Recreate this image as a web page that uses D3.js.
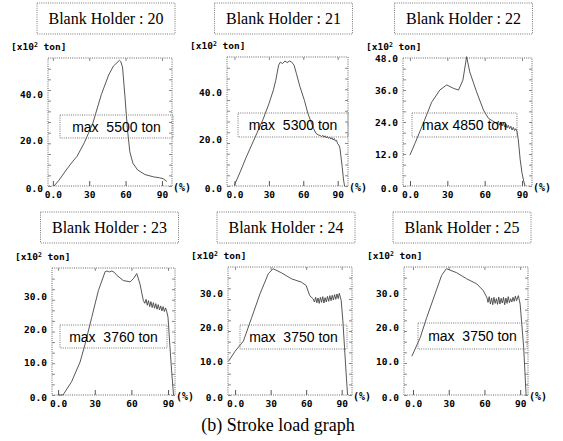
<!DOCTYPE html>
<html>
<head>
<meta charset="utf-8">
<script src="https://cdn.jsdelivr.net/npm/d3@7"></script>
<style>
  body { margin: 0; background: #fff; }
  svg { display: block; }
  .tick text { font-family: "DejaVu Sans Mono", monospace; font-weight: bold; font-size: 9.5px; fill: #000; }
</style>
</head>
<body>
<svg id="chart" width="563" height="441"></svg>
<script>
"use strict";

// ---- data (stroke in %, load in x10^2 ton) ----
const titles = ["Blank Holder : 20", "Blank Holder : 21", "Blank Holder : 22",
                "Blank Holder : 23", "Blank Holder : 24", "Blank Holder : 25"];
const maxLabels = ["max  5500 ton", "max  5300 ton", "max 4850 ton",
                   "max  3760 ton", "max  3750 ton", "max  3750 ton"];
const xTicks = [0, 30, 60, 90];
const yTicks1 = [0, 20, 40];
const yTicks2 = [0, 20, 40];
const yTicks3 = [0, 12, 24, 36, 48];
const yTicks4 = [0, 10, 20, 30];
const yTicks5 = [0, 10, 20, 30];
const yTicks6 = [0, 10, 20, 30];

const stroke1 = [1, 5, 11, 16, 20, 26, 33, 40, 46, 50, 53, 55, 56, 57.5, 59.5, 61.5, 63.5, 66, 70, 76, 83, 88, 91, 94];
const load1   = [0, 2.5, 7, 10.5, 13, 19, 27.5, 40, 48.5, 52.5, 54, 55, 54.5, 52, 39, 25, 15, 10, 7, 5, 4, 3.6, 3.2, 2];

const stroke2 = [0, 5, 10, 15, 20, 25, 30, 34, 36, 38.5, 40, 42, 44, 46, 48, 50, 52, 54, 57, 61, 64, 67, 69, 71, 73, 75,
                 76, 77, 78, 79, 80, 81, 82, 83, 84, 85, 86, 87, 88, 89, 90, 91, 92, 93, 94, 95, 96];
const load2   = [0.4, 6, 12, 17.5, 23, 28.5, 35, 41, 45, 51.5, 52.8, 52.2, 53.3, 52.6, 53.3, 52.8, 51.5, 48, 42.5, 36.5, 31, 27, 24.5, 22.5, 21.8, 21.5,
                 21, 21.6, 20.8, 21.4, 20.5, 21.2, 20.3, 20.9, 20, 20.6, 19.6, 20.2, 19.2, 19.5, 18, 17.5, 16, 12, 8, 3, 0];

const stroke3 = [0, 4, 10.7, 17.4, 24, 29.5, 35, 39, 42.5, 45.5, 48, 53.5, 59, 63, 66, 69.7, 71, 72, 73, 74, 75, 76, 77, 78,
                 79, 80, 81, 82, 83, 84, 85, 86, 87, 88.5, 90, 91.5, 92.5];
const load3   = [11.6, 16, 23.5, 31.4, 36, 37.9, 36.6, 36, 39.7, 48.5, 42.8, 35.3, 28.5, 25.4, 24.5, 23.5, 24.3, 22.8, 24, 22.5, 23.6, 22.2, 23.2, 21.8,
                 22.8, 21.5, 22.4, 21, 22, 20.8, 21.5, 20.4, 17.3, 10, 4.8, 1.5, 0];

const stroke4 = [0, 4, 11, 18, 22, 27.5, 33, 38.5, 40, 42, 44, 46, 48, 53.4, 59, 61.7, 64.4, 67, 69.8, 71, 72, 73, 74, 75, 76,
                 77, 78, 79, 80, 81, 82, 83, 84, 85, 86, 87, 88, 89, 90, 91.5, 93, 94.5];
const load4   = [0, 0, 4, 10, 15.3, 23.5, 31.7, 37.4, 37.6, 37.3, 37.6, 37.2, 36.3, 34.7, 34.3, 35.3, 36.8, 33.7, 28.6, 27.8, 29, 27.2, 28.6, 26.8, 28.3,
                 26.5, 28, 26.3, 27.7, 26, 27.4, 25.8, 27, 25.5, 26.8, 25.3, 26.4, 25.2, 23.5, 15, 7, 0];

const stroke5 = [-5.6, 0, 7, 14, 21, 28, 32, 39, 47.6, 56, 60, 63, 66, 67, 68, 69, 70, 71, 72, 73, 74, 75, 76, 77, 78, 79,
                 80, 81, 82, 83, 84, 85, 86, 87, 88, 89.6, 91, 92.4, 94, 95];
const load5   = [10, 13, 16, 23, 30, 36, 37.5, 36.3, 34.5, 33.5, 32.5, 29.5, 28.5, 27.6, 29, 27.4, 28.8, 27.2, 29, 27.5, 29.2, 27.3, 28.9, 27.6, 29.3, 27.8,
                 29.5, 28, 29.6, 28.2, 29.8, 28.4, 30, 28.6, 30.2, 28, 22, 14, 5, 0];

const stroke6 = [-1, 6, 11.5, 18.5, 24, 28, 36.7, 45, 53.5, 59, 62, 63, 64, 65, 66, 67, 68, 69, 70, 71, 72, 73, 74, 75, 76,
                 77, 78, 79, 80, 81, 82, 83, 84, 85, 86, 87, 88.5, 90, 93, 95];
const load6   = [11.5, 17, 23, 30, 35.5, 37.5, 36.3, 34.5, 33, 31, 29, 27.5, 29.2, 27, 28.8, 26.8, 29, 27.2, 28.6, 26.9, 29.1, 27, 28.7, 27.3, 29,
                 26.8, 28.8, 27.2, 29.2, 27.4, 28.6, 27.6, 29, 27.8, 29.4, 28, 29.5, 27, 14, 0];

const strokes = [stroke1, stroke2, stroke3, stroke4, stroke5, stroke6];
const loads   = [load1, load2, load3, load4, load5, load6];
const yTicks  = [yTicks1, yTicks2, yTicks3, yTicks4, yTicks5, yTicks6];

// ---- layout of each panel (frame box, domains, annotation box) ----
const layout = [
  {l: 48,  r: 172, t: 58,  b: 186, xd: [-4, 98.3],  yd: [0, 56],   box: [60, 115, 113, 23]},
  {l: 227, r: 348, t: 57,  b: 186, xd: [-6.5, 99],  yd: [0, 55],   box: [238, 113, 110, 24]},
  {l: 403, r: 532, t: 58,  b: 186, xd: [-5.6, 98],  yd: [0, 48],   box: [412, 113, 105, 24]},
  {l: 52,  r: 175, t: 268, b: 395, xd: [-5, 95.7],  yd: [0, 38.5], box: [60, 325, 107, 23]},
  {l: 228, r: 352, t: 267, b: 395, xd: [-6, 98.7],  yd: [0, 38],   box: [240, 325, 107, 24]},
  {l: 404, r: 528, t: 267, b: 395, xd: [-7.6, 96.6], yd: [0, 38],  box: [418, 323, 109, 26]}
];

const svg = d3.select("#chart");
const dotted = "1,1.2";

layout.forEach((p, i) => {
  const x = d3.scaleLinear().domain(p.xd).range([p.l, p.r]);
  const y = d3.scaleLinear().domain(p.yd).range([p.b, p.t]);
  const g = svg.append("g");

  // title box
  const tcx = (p.l + p.r) / 2 - 4;
  const ttop = i < 3 ? 3 : 212;
  g.append("rect")
    .attr("x", tcx - 69).attr("y", ttop).attr("width", 138).attr("height", 31)
    .attr("fill", "none").attr("stroke", "#777").attr("stroke-dasharray", dotted);
  g.append("text")
    .attr("x", tcx).attr("y", ttop + 21)
    .attr("text-anchor", "middle")
    .style("font-family", "'Liberation Serif', serif").style("font-size", "16px")
    .text(titles[i]);

  // unit label
  const unit = g.append("text")
    .attr("x", p.l - 37).attr("y", p.t - 8)
    .style("font-family", "'DejaVu Sans Mono', monospace").style("font-weight", "bold").style("font-size", "9.5px");
  unit.append("tspan").text("[x10");
  unit.append("tspan").attr("dy", -3).style("font-size", "6.5px").text("2");
  unit.append("tspan").attr("dy", 3).text(" ton]");

  // frame
  g.append("rect")
    .attr("x", p.l).attr("y", p.t).attr("width", p.r - p.l).attr("height", p.b - p.t)
    .attr("fill", "none").attr("stroke", "#666").attr("stroke-dasharray", dotted);

  // minor ticks inside the frame
  const minor = d3.range(p.yd[0], p.yd[1], (p.yd[1] - p.yd[0]) / 12);
  g.append("g").attr("transform", `translate(${p.l},0)`)
    .call(d3.axisLeft(y).tickValues(minor).tickSize(-3).tickFormat(""))
    .call(a => a.select(".domain").remove())
    .call(a => a.selectAll("line").attr("stroke", "#888"));
  g.append("g").attr("transform", `translate(${p.r},0)`)
    .call(d3.axisRight(y).tickValues(minor).tickSize(-3).tickFormat(""))
    .call(a => a.select(".domain").remove())
    .call(a => a.selectAll("line").attr("stroke", "#888"));
  g.append("g").attr("transform", `translate(0,${p.t})`)
    .call(d3.axisTop(x).tickValues(xTicks).tickSize(-3).tickFormat(""))
    .call(a => a.select(".domain").remove())
    .call(a => a.selectAll("line").attr("stroke", "#888"));

  // x axis
  g.append("g").attr("transform", `translate(0,${p.b})`)
    .call(d3.axisBottom(x).tickValues(xTicks).tickSize(-5).tickPadding(5)
      .tickFormat(d => d === 0 ? "0.0" : d))
    .call(a => a.select(".domain").remove())
    .call(a => a.selectAll("line").attr("stroke", "#555"));

  // y axis labels
  g.append("g").attr("transform", `translate(${p.l},0)`)
    .call(d3.axisLeft(y).tickValues(yTicks[i]).tickSize(0).tickPadding(5)
      .tickFormat(d3.format(".1f")))
    .call(a => a.select(".domain").remove())
    .call(a => a.selectAll(".tick text").attr("dy", (d, k) => k === 0 ? "0.6em" : "0.32em"));

  // (%) label
  g.append("text")
    .attr("x", p.r + 1).attr("y", p.b + 5)
    .style("font-family", "'DejaVu Sans Mono', monospace").style("font-weight", "bold").style("font-size", "10px")
    .text("(%)");

  // load curve
  const pts = strokes[i].map((s, k) => [s, loads[i][k]]);
  g.append("path")
    .datum(pts)
    .attr("fill", "none").attr("stroke", "#444").attr("stroke-width", 0.9)
    .attr("d", d3.line().x(d => x(d[0])).y(d => y(d[1])));

  // max annotation box
  const [bx, by, bw, bh] = p.box;
  g.append("rect")
    .attr("x", bx).attr("y", by).attr("width", bw).attr("height", bh)
    .attr("fill", "none").attr("stroke", "#777").attr("stroke-dasharray", dotted);
  g.append("text")
    .attr("x", bx + bw / 2).attr("y", by + bh / 2 + 5)
    .attr("text-anchor", "middle")
    .attr("xml:space", "preserve").style("white-space", "pre")
    .style("font-family", "'Liberation Sans', Arial, sans-serif").style("font-size", "14px")
    .text(maxLabels[i]);
});

// caption
svg.append("text")
  .attr("x", 278).attr("y", 431)
  .attr("text-anchor", "middle")
  .style("font-family", "'Liberation Serif', serif").style("font-size", "18px")
  .text("(b) Stroke load graph");
</script>
</body>
</html>
